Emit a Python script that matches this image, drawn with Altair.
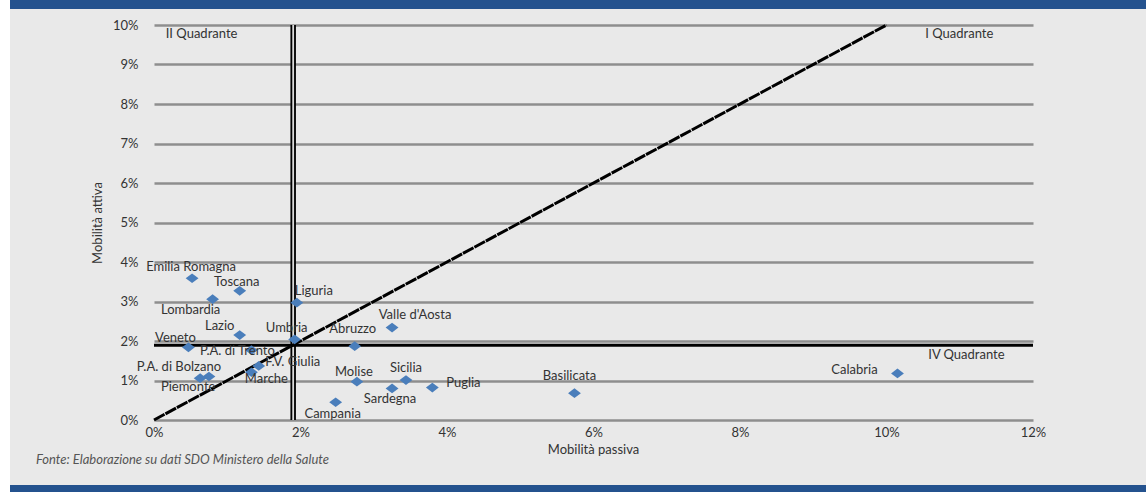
import altair as alt
import pandas as pd

# ---- data (values in %) ----
regions = ["Emilia Romagna", "Toscana", "Lombardia", "Liguria", "Lazio", "Umbria",
           "Veneto", "P.A. di Trento", "F.V. Giulia", "Marche", "P.A. di Bolzano",
           "Piemonte", "Abruzzo", "Molise", "Campania", "Valle d'Aosta", "Sicilia",
           "Sardegna", "Puglia", "Basilicata", "Calabria"]
mob_passiva = [0.52, 1.17, 0.80, 1.95, 1.17, 1.92, 0.47, 1.33, 1.43, 1.33, 0.75,
               0.63, 2.74, 2.77, 2.48, 3.25, 3.44, 3.25, 3.80, 5.74, 10.15]
mob_attiva = [3.59, 3.27, 3.06, 2.97, 2.15, 2.04, 1.84, 1.77, 1.37, 1.21, 1.10,
              1.06, 1.87, 0.97, 0.45, 2.34, 1.01, 0.80, 0.82, 0.68, 1.18]
media_passiva = 1.90
media_attiva = 1.89
x_ticks = [0, 2, 4, 6, 8, 10, 12]
y_ticks = [0, 1, 2, 3, 4, 5, 6, 7, 8, 9, 10]

# label offsets (pixels, style only)
label_dx = {"Emilia Romagna": -1, "Toscana": -3, "Lombardia": -22, "Liguria": 17,
            "Lazio": -20, "Umbria": -8, "Veneto": -13, "P.A. di Trento": -14,
            "F.V. Giulia": 34, "Marche": 15, "P.A. di Bolzano": -30, "Piemonte": -12,
            "Abruzzo": -2, "Molise": -3, "Campania": -3, "Valle d'Aosta": 23,
            "Sicilia": 0, "Sardegna": -2, "Puglia": 31, "Basilicata": -5, "Calabria": -43}
label_dy = {"Emilia Romagna": -11, "Toscana": -9, "Lombardia": 11, "Liguria": -12,
            "Lazio": -9, "Umbria": -11, "Veneto": -9, "P.A. di Trento": 1,
            "F.V. Giulia": -4, "Marche": 7, "P.A. di Bolzano": -10, "Piemonte": 9,
            "Abruzzo": -17, "Molise": -10, "Campania": 12, "Valle d'Aosta": -13,
            "Sicilia": -12, "Sardegna": 11, "Puglia": -5, "Basilicata": -17, "Calabria": -3}

df = pd.DataFrame({"Regione": regions, "passiva": mob_passiva, "attiva": mob_attiva})

FONT = "Lato"
W, H = 879, 395
X = alt.Scale(domain=[0, 12], nice=False)
Y = alt.Scale(domain=[0, 10], nice=False)

X_AXIS = alt.Axis(values=x_ticks, labelExpr="datum.value + '%'", grid=False,
                  domain=False, ticks=False, labelPadding=6, labelFlush=False,
                  labelOverlap=False, titleX=439, titleY=29, titleBaseline="middle",
                  titleAlign="center")
Y_AXIS = alt.Axis(values=y_ticks, labelExpr="datum.value + '%'", grid=True,
                  gridColor="#8e8e8e", gridWidth=2.5, domain=False, ticks=False,
                  labelPadding=16, labelFlush=False, labelOverlap=False,
                  titleX=-57, titleY=H / 2, titleAngle=-90, titleBaseline="middle",
                  titleAlign="center")


def xq(field):
    return alt.X(field, type="quantitative", scale=X, axis=X_AXIS, title="Mobilità passiva")


def yq(field):
    return alt.Y(field, type="quantitative", scale=Y, axis=Y_AXIS, title="Mobilità attiva")


points = alt.Chart(df).mark_point(
    shape="M-1,0L0,-0.75L1,0L0,0.75Z", size=165, filled=True, opacity=1,
    color="#4a7ebb", strokeWidth=0
).encode(x=xq("passiva"), y=yq("attiva"))

labels = []
for r in regions:
    labels.append(
        alt.Chart(df[df["Regione"] == r]).mark_text(
            font=FONT, fontSize=13, color="#333333", align="center",
            baseline="middle", dx=label_dx[r], dy=label_dy[r]
        ).encode(x=xq("passiva"), y=yq("attiva"), text="Regione:N")
    )

diag = alt.Chart(pd.DataFrame({"a": [0, 10], "b": [0, 10]})).mark_line(
    color="black", strokeWidth=3, strokeDash=[12, 1]
).encode(x=xq("a"), y=yq("b"))

vdf = pd.DataFrame({"x": [media_passiva], "y1": [0], "y2": [10]})
vline_outer = alt.Chart(vdf).mark_rule(color="black", strokeWidth=5.5).encode(
    x=xq("x"), y=yq("y1"), y2="y2:Q")
vline_inner = alt.Chart(vdf).mark_rule(color="#dcdcdc", strokeWidth=1.8).encode(
    x=xq("x"), y=yq("y1"), y2="y2:Q")

hdf = pd.DataFrame({"y": [media_attiva], "x1": [0], "x2": [12]})
hline = alt.Chart(hdf).mark_rule(color="black", strokeWidth=3).encode(
    y=yq("y"), x=xq("x1"), x2="x2:Q")

qdf = pd.DataFrame({"t": ["II Quadrante", "I Quadrante", "IV Quadrante"],
                    "qx": [0.16, 10.53, 10.57], "qy": [9.77, 9.77, 1.65]})
quadrants = alt.Chart(qdf).mark_text(
    font=FONT, fontSize=13, color="#333333", align="left", baseline="middle"
).encode(x=xq("qx"), y=yq("qy"), text="t:N")

one = pd.DataFrame({"k": [0]})
top_band = alt.Chart(one).mark_rect(color="#24528e").encode(
    x=alt.value(-144), x2=alt.value(1146 - 154), y=alt.value(-25), y2=alt.value(-16))
bottom_band = alt.Chart(one).mark_rect(color="#24528e").encode(
    x=alt.value(-144), x2=alt.value(1146 - 154), y=alt.value(485 - 25), y2=alt.value(492 - 25))
left_strip = alt.Chart(one).mark_rect(color="white").encode(
    x=alt.value(-154), x2=alt.value(-144), y=alt.value(-25), y2=alt.value(492 - 25))
source = alt.Chart(one).mark_text(
    font=FONT, fontSize=13, fontStyle="italic", color="#555555", align="left",
    baseline="middle", text="Fonte: Elaborazione su dati SDO Ministero della Salute"
).encode(x=alt.value(36 - 154), y=alt.value(460 - 25))

chart = alt.layer(
    top_band, bottom_band, left_strip, source,
    vline_outer, vline_inner, hline, diag, points, *labels, quadrants
).properties(
    width=W, height=H,
    autosize=alt.AutoSizeParams(type="none"),
    padding={"left": 154, "top": 25, "right": 113, "bottom": 72},
    background="#e9e9e9",
).configure_view(stroke=None).configure_axis(
    labelFont=FONT, labelFontSize=13, labelColor="#333333",
    titleFont=FONT, titleFontSize=13, titleFontWeight="normal", titleColor="#333333"
)

chart.save("out.html", embed_options={"renderer": "svg", "actions": False})
